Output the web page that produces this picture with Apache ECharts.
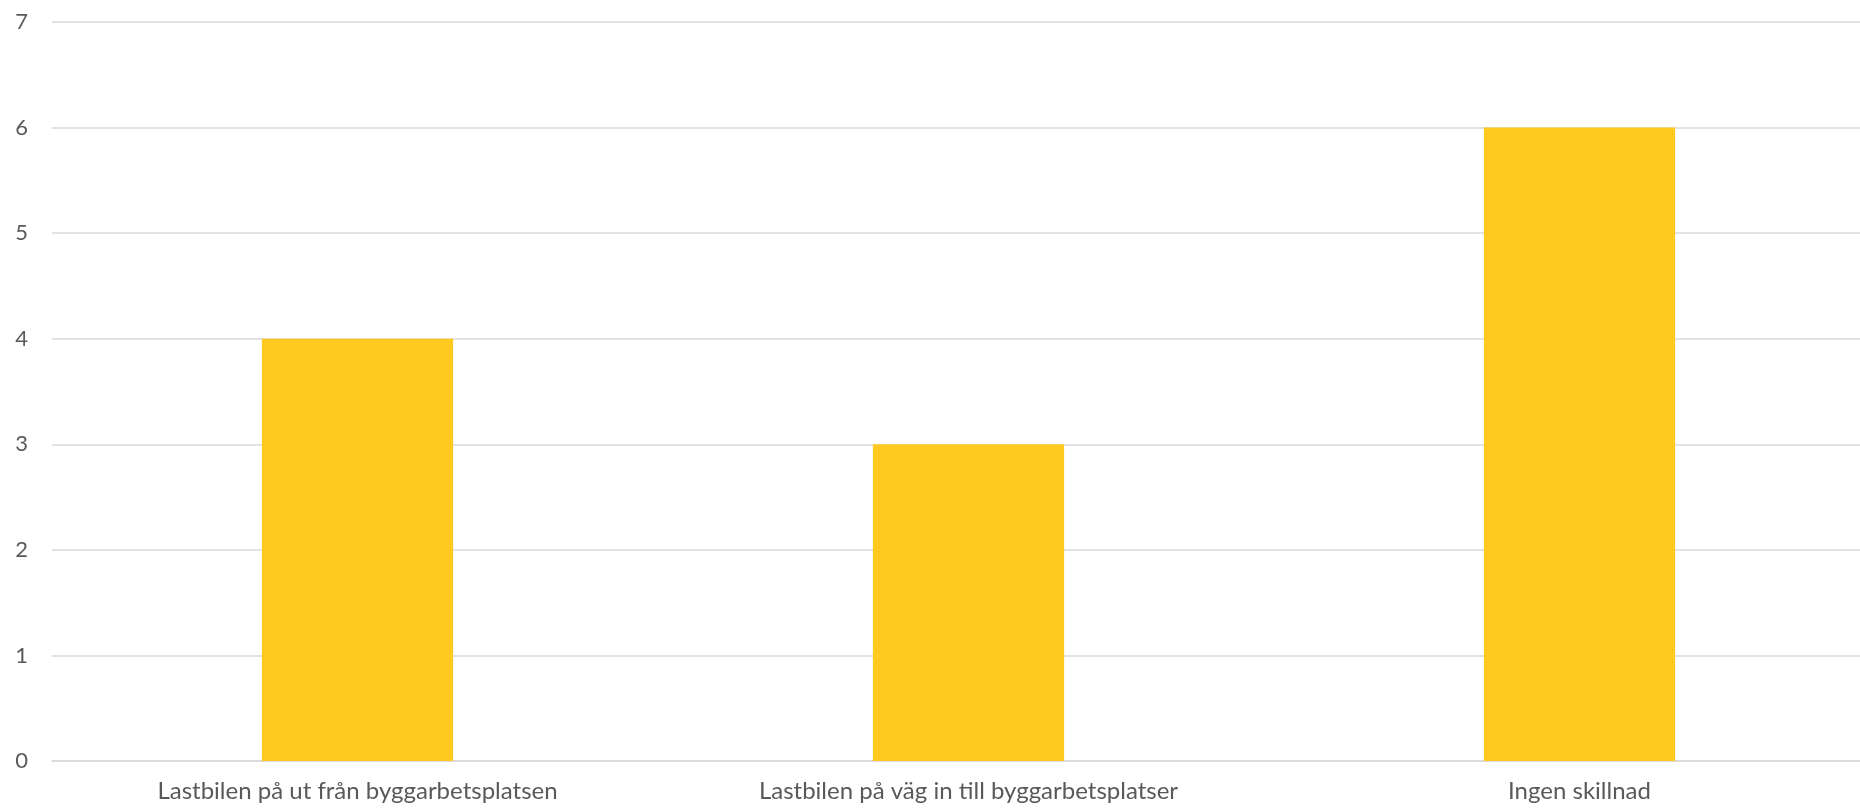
<!DOCTYPE html>
<html><head><meta charset="utf-8">
<script src="https://cdn.jsdelivr.net/npm/echarts@6/dist/echarts.min.js"></script>
<style>html,body{margin:0;padding:0;background:#fff;overflow:hidden;width:1860px;height:808px}#c{width:1885px;height:808px}</style>
</head><body><div id="c"></div>
<script>
const categories = ["Lastbilen på ut från byggarbetsplatsen", "Lastbilen på väg in till byggarbetsplatser", "Ingen skillnad"];
const values = [4, 3, 6];
const yTicks = [0, 1, 2, 3, 4, 5, 6, 7];

const chart = echarts.init(document.getElementById('c'));
chart.setOption({
  animation: false,
  grid: { left: 52, right: 0, top: 22, bottom: 47, containLabel: false },
  xAxis: {
    type: 'category', data: categories,
    axisLine: { show: true, lineStyle: { color: '#d9d9d9', width: 1.5 } },
    axisTick: { show: false },
    axisLabel: { color: '#595959', fontFamily: 'Lato', fontSize: 24, margin: 18, fontFeatureSettings: '"liga" 0' }
  },
  yAxis: {
    type: 'value', min: yTicks[0], max: yTicks[yTicks.length - 1], interval: 1,
    axisLine: { show: false }, axisTick: { show: false },
    splitLine: { lineStyle: { color: '#d9d9d9', width: 1.5 } },
    axisLabel: { color: '#595959', fontFamily: 'Lato', fontSize: 22, margin: 24 }
  },
  series: [{
    type: 'bar', data: values, barWidth: '31.3%',
    itemStyle: { color: '#FFC91F' }
  }]
});
</script></body></html>
